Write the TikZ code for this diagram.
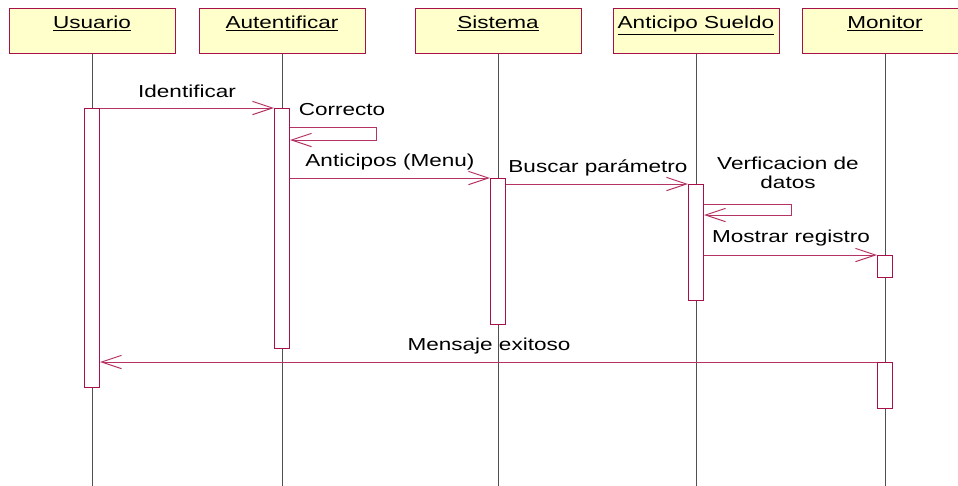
\documentclass[tikz,border=0pt]{standalone}
\usepackage{fontspec}
\setmainfont{Liberation Sans}[FakeStretch=1.3]
\usetikzlibrary{arrows.meta,calc}
\definecolor{umlred}{HTML}{A8104A}
\definecolor{objyellow}{HTML}{FFFFCC}
\definecolor{lifegray}{HTML}{505050}
\tikzset{
  obj/.style={draw=umlred, line width=0.75pt, fill=objyellow, anchor=north, minimum width=124.5pt, inner sep=0pt, text height=15pt, text depth=18.75pt},
  act/.style={draw=umlred, line width=0.75pt, fill=white, anchor=north, minimum width=11.25pt, inner sep=0pt},
  lifeline/.style={draw=lifegray, line width=0.75pt},
  msg/.style={draw=umlred!85, line width=0.75pt, -{Straight Barb[length=15pt,width=10pt]}},
  msglabel/.style={anchor=base, inner sep=0pt}
}

\begin{document}
\begin{tikzpicture}[x=0.75pt, y=-0.75pt, font=\fontsize{13}{14.25}\selectfont]
  \useasboundingbox (0,0) rectangle (958,486);

  % object heads
  \node[obj] (usr) at (92,8) {\underline{Usuario}};
  \node[obj] (aut) at (282,8) {\underline{Autentificar}};
  \node[obj] (sis) at (498,8) {\underline{Sistema}};
  \node[obj] (ant) at (696,8) {\underline{Anticipo Sueldo}};
  \node[obj] (mon) at (885,8) {\underline{Monitor}};

  % lifelines down to the bottom edge
  \coordinate (usrEnd) at (92,490);
  \coordinate (autEnd) at (282,490);
  \coordinate (sisEnd) at (498,490);
  \coordinate (antEnd) at (696,490);
  \coordinate (monEnd) at (885,490);
  \draw[lifeline] (usr.south) -- (usrEnd);
  \draw[lifeline] (aut.south) -- (autEnd);
  \draw[lifeline] (sis.south) -- (sisEnd);
  \draw[lifeline] (ant.south) -- (antEnd);
  \draw[lifeline] (mon.south) -- (monEnd);

  % activation bars
  \node[act, minimum height=209.25pt] (usrAct) at (92,108) {};
  \node[act, minimum height=180pt] (autAct) at (282,108) {};
  \node[act, minimum height=109.5pt] (sisAct) at (498,178) {};
  \node[act, minimum height=87pt] (antAct) at (696,184) {};
  \node[act, minimum height=16.5pt] (monAct) at (885,255) {};
  \node[act, minimum height=34.5pt] (monAct2) at (885,362) {};

  % messages
  \draw[msg] (usrAct.north east) -- (autAct.north west);
  \draw[msg] ($(autAct.north east)+(0,19)$) -- ++(86,0) -- ++(0,13) -- ++(-86,0);
  \draw[msg] (autAct.east |- sisAct.north) -- (sisAct.north west);
  \draw[msg] (sisAct.east |- antAct.north) -- (antAct.north west);
  \draw[msg] ($(antAct.north east)+(0,20)$) -- ++(87,0) -- ++(0,11) -- ++(-87,0);
  \draw[msg] (antAct.east |- monAct.north) -- (monAct.north west);
  \draw[msg] (monAct2.north west) -- (usrAct.east |- monAct2.north);

  % message labels
  \node[msglabel] (lblIdent) at (187,97) {Identificar};
  \node[msglabel] (lblCorr) at (342,115) {Correcto};
  \node[msglabel] (lblAnt) at (390,166) {Anticipos (Menu)};
  \node[msglabel] (lblBusc) at (598,172) {Buscar parámetro};
  \node[msglabel, align=center] (lblVerf) at (788,188) {Verficacion de\\datos};
  \node[msglabel] (lblMost) at (791,242) {Mostrar registro};
  \node[msglabel] (lblMens) at (489,350) {Mensaje exitoso};
\end{tikzpicture}
\end{document}
